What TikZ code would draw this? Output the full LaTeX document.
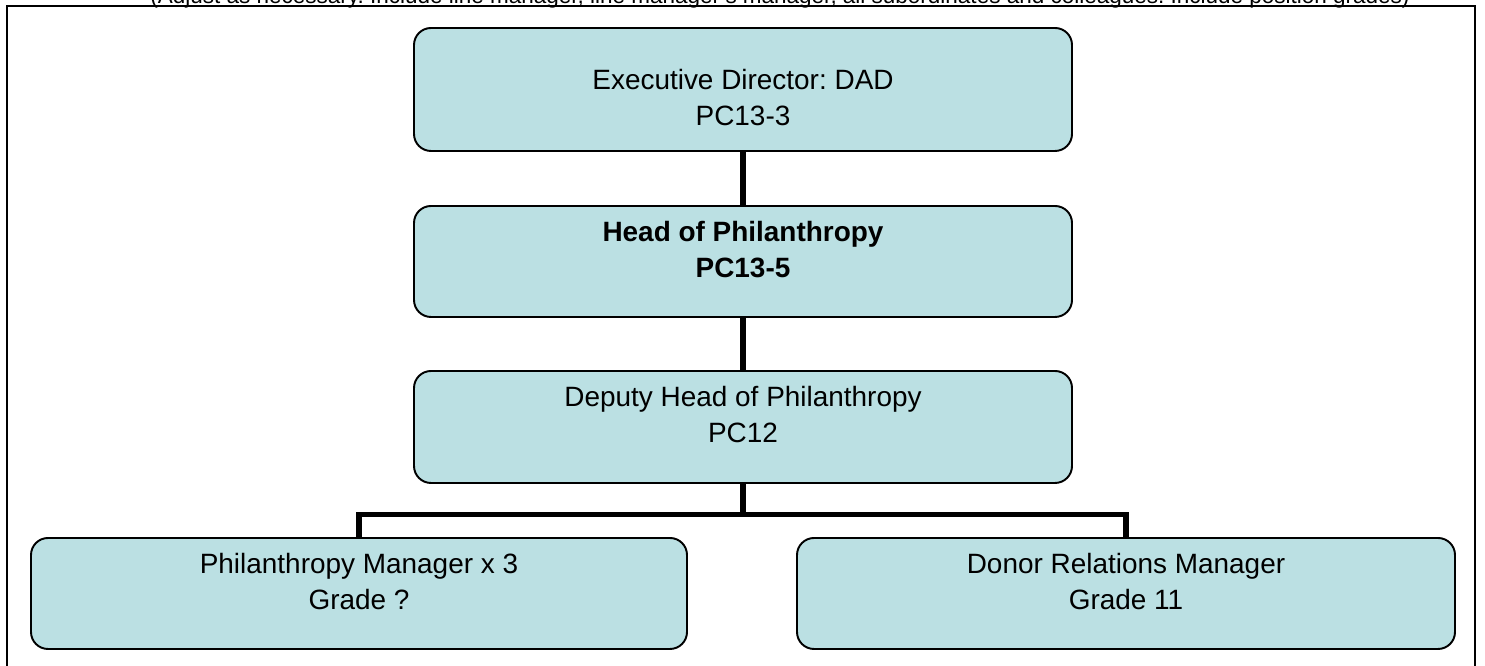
\documentclass[tikz,border=0pt]{standalone}
\usepackage{fontspec}
\setmainfont{Liberation Sans}
\usetikzlibrary{positioning}
\definecolor{orgfill}{RGB}{187,224,227}
\frenchspacing
\begin{document}
\begin{tikzpicture}[
  orgbox/.style={draw=black,line width=1.1pt,fill=orgfill,rounded corners=0.34cm,
    minimum width=13.16cm,minimum height=2.22cm,inner sep=0pt},
  orgtext/.style={align=center,font=\fontsize{15.9}{20.5}\selectfont},
  link/.style={line width=2.9pt,line join=miter}
]
\clip (0,0) rectangle (29.7,13.32);
% note above the frame, cut off by the page
\node[font=\fontsize{12.8}{14}\selectfont,anchor=base] (note) at (15.6,13.24)
  {(Adjust as necessary. Include line manager, line manager's manager, all subordinates and colleagues. Include position grades)};
\draw[line width=1.1pt] (0.14,-0.2) -- (0.14,13.2) -- (29.5,13.2) -- (29.5,-0.2);
% boxes
\node[orgbox,minimum height=2.46cm] (exec) at (14.86,11.53) {};
\node[orgtext] at ([yshift=-0.17cm]exec.center) {Executive Director: DAD\\PC13-3};
\node[orgbox] (head) at (14.86,8.09) {};
\node[orgtext,font=\fontsize{15.9}{20.5}\selectfont\bfseries] at ([yshift=0.24cm]head.center) {Head of Philanthropy\\PC13-5};
\node[orgbox,minimum height=2.24cm] (deputy) at (14.86,4.78) {};
\node[orgtext] at ([yshift=0.24cm]deputy.center) {Deputy Head of Philanthropy\\PC12};
\node[orgbox,minimum width=13.12cm] (mgr) at (7.18,1.45) {};
\node[orgtext] at ([yshift=0.24cm]mgr.center) {Philanthropy Manager x 3\\Grade ?};
\node[orgbox] (donor) at (22.52,1.45) {};
\node[orgtext] at ([yshift=0.24cm]donor.center) {Donor Relations Manager\\Grade 11};
% lines between boxes
\coordinate (bar) at (14.86,3.03);
\draw[link] (exec.south) -- (head.north);
\draw[link] (head.south) -- (deputy.north);
\draw[link] (deputy.south) -- (bar);
\draw[link] (mgr.north) |- (bar) -| (donor.north);
\end{tikzpicture}
\end{document}
